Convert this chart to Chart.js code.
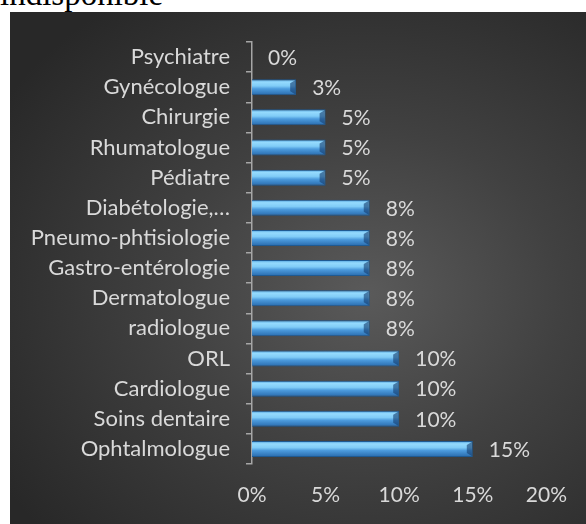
<!DOCTYPE html>
<html>
<head>
<meta charset="utf-8">
<script src="https://cdn.jsdelivr.net/npm/chart.js@4"></script>
<style>
  body { margin: 0; background: #fff; width: 586px; height: 524px; overflow: hidden; position: relative; }
  #caption { position: absolute; left: 0; top: -22px; font: 33px "Liberation Serif", "Times New Roman", serif; line-height: 32px; color: #000; white-space: nowrap; }
  #panel {
    position: absolute; left: 10px; top: 12px; width: 576px; height: 512px;
    background: radial-gradient(ellipse 75% 70% at 62% 55%, #5a5a5a 0%, #414141 45%, #282828 100%);
  }
</style>
</head>
<body>
<div id="caption">indisponible</div>
<div id="panel"><canvas id="chart" width="576" height="512"></canvas></div>
<script>
var specialites = ['Psychiatre', 'Gynécologue', 'Chirurgie', 'Rhumatologue', 'Pédiatre',
  'Diabétologie,…', 'Pneumo-phtisiologie', 'Gastro-entérologie', 'Dermatologue',
  'radiologue', 'ORL', 'Cardiologue', 'Soins dentaire', 'Ophtalmologue'];
var pourcentages = [0, 3, 5, 5, 5, 8, 8, 8, 8, 8, 10, 10, 10, 15];
var xTicks = [0, 5, 10, 15, 20];

var textColor = '#d9d9d9';
var axisColor = '#a6a6a6';
var fontFamily = 'Lato, "Open Sans", sans-serif';

// vertical gradient for each bar, built from its own row on the y scale
function barFill(ctx)
{
  var chart = ctx.chart;
  var yScale = chart.scales.y;
  if (!yScale || !chart.chartArea) return '#5aaee8';
  var yc = yScale.getPixelForValue(ctx.dataIndex);
  var h = 16;
  var g = chart.ctx.createLinearGradient(0, yc - h / 2, 0, yc + h / 2);
  g.addColorStop(0, '#4a9cdb');
  g.addColorStop(0.18, '#95dafd');
  g.addColorStop(0.42, '#80ccf7');
  g.addColorStop(0.6, '#4c9bdd');
  g.addColorStop(1, '#286aac');
  return g;
}

// bevelled right end on each bar + value labels
var barDecor = {
  id: 'barDecor',
  afterDatasetsDraw: function (chart) {
    var ctx = chart.ctx;
    var meta = chart.getDatasetMeta(0);
    ctx.save();
    meta.data.forEach(function (el, i) {
      var v = pourcentages[i];
      if (v > 0) {
        var top = el.y - el.height / 2, bot = el.y + el.height / 2;
        ctx.fillStyle = 'rgba(20,60,110,0.6)';
        ctx.beginPath();
        ctx.moveTo(el.x - 1, top + 1);
        ctx.lineTo(el.x - 1, bot - 1);
        ctx.lineTo(el.x - 6, bot - 4);
        ctx.lineTo(el.x - 6, top + 4);
        ctx.closePath();
        ctx.fill();
      }
      ctx.fillStyle = textColor;
      ctx.font = '21px ' + fontFamily;
      ctx.textAlign = 'left';
      ctx.textBaseline = 'middle';
      ctx.fillText(v + '%', el.x + 16, el.y + 1);
    });
    ctx.restore();
  }
};

new Chart(document.getElementById('chart'), {
  type: 'bar',
  data: {
    labels: specialites,
    datasets: [{
      data: pourcentages,
      backgroundColor: barFill,
      borderColor: '#1f5a92',
      borderWidth: 1,
      borderSkipped: 'start',
      barPercentage: 0.53,
      categoryPercentage: 1.0
    }]
  },
  options: {
    indexAxis: 'y',
    responsive: false,
    animation: false,
    events: [],
    layout: { padding: { top: 30, right: 38, left: 0, bottom: 0 } },
    plugins: {
      legend: { display: false },
      tooltip: { enabled: false }
    },
    scales: {
      x: {
        min: 0,
        max: 20,
        afterBuildTicks: function (scale) {
          scale.ticks = xTicks.map(function (v) { return { value: v }; });
        },
        afterFit: function (scale) { scale.height = 60; },
        grid: { display: false, drawTicks: false },
        border: { display: false },
        ticks: {
          color: textColor,
          padding: 19,
          font: { family: fontFamily, size: 21 },
          callback: function (v) { return v + '%'; }
        }
      },
      y: {
        afterFit: function (scale) { scale.width = 242; },
        grid: {
          offset: true,
          drawOnChartArea: false,
          drawTicks: true,
          tickLength: 6,
          color: axisColor,
          lineWidth: 1.5
        },
        border: { display: true, color: axisColor, width: 1.5 },
        ticks: {
          color: textColor,
          padding: 16,
          autoSkip: false,
          font: { family: fontFamily, size: 22 }
        }
      }
    }
  },
  plugins: [barDecor]
});
</script>
</body>
</html>
